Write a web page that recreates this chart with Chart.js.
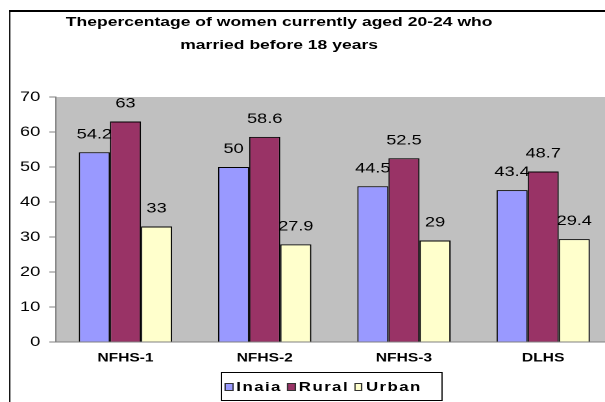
<!DOCTYPE html>
<html>
<head>
<meta charset="utf-8">
<script src="https://cdn.jsdelivr.net/npm/chart.js@4/dist/chart.umd.min.js"></script>
<style>
    html, body { margin: 0; padding: 0; background: #fff; overflow: hidden; }
    /* the original picture is stretched sideways, so the whole chart is drawn narrow and scaled */
    #stage { position: relative; width: 466px; height: 402px; overflow: hidden; transform: scaleX(1.2983); transform-origin: 0 0; }
    #frame { position: absolute; left: 7.2px; top: 10px; width: 470px; height: 400px; border-left: 1.6px solid #000; border-top: 2px solid #000; }
    #title { position: absolute; left: 0; top: 9.5px; width: 430px; text-align: center; font: bold 13.5px "Liberation Sans", Arial, sans-serif; line-height: 23px; color: #000; }
    #chart { position: absolute; left: 0; top: 0; }
    #legend { position: absolute; left: 170px; top: 372px; width: 167px; height: 27px; padding-left: 2px; border: 1px solid #000; display: flex; align-items: center; justify-content: flex-start; gap: 4px; font: bold 13px "Liberation Sans", Arial, sans-serif; letter-spacing: 1.1px; color: #000; }
    #legend span.box { display: inline-block; width: 4.5px; height: 6px; border: 1px solid #333; margin-right: 2.5px; vertical-align: 0px; }
</style>
</head>
<body>
<div id="stage">
    <div id="frame"></div>
    <div id="title">Thepercentage of women currently aged 20-24 who<br>married before 18 years</div>
    <canvas id="chart" width="472" height="402" style="width:472px;height:402px"></canvas>
    <div id="legend"></div>
</div>
<script>
const surveys = ['NFHS-1', 'NFHS-2', 'NFHS-3', 'DLHS'];
const indiaValues = [54.2, 50, 44.5, 43.4];
const ruralValues = [63, 58.6, 52.5, 48.7];
const urbanValues = [33, 27.9, 29, 29.4];
const seriesNames = ['Inaia', 'Rural', 'Urban'];
const seriesColors = ['#9999FF', '#993366', '#FFFFCC'];

// grey plot area like the old Excel chart
const plotBackground = {
    id: 'plotBackground',
    beforeDraw(chart) {
        const { ctx, chartArea } = chart;
        ctx.save();
        ctx.fillStyle = '#C0C0C0';
        ctx.fillRect(chartArea.left, chartArea.top, chartArea.right - chartArea.left, chartArea.bottom - chartArea.top);
        ctx.restore();
    }
};

// value written above every bar
const barValues = {
    id: 'barValues',
    afterDatasetsDraw(chart) {
        const ctx = chart.ctx;
        ctx.save();
        ctx.font = '14px "Liberation Sans", Arial, sans-serif';
        ctx.fillStyle = '#000';
        ctx.textAlign = 'center';
        ctx.textBaseline = 'alphabetic';
        chart.data.datasets.forEach((ds, i) => {
            chart.getDatasetMeta(i).data.forEach((bar, j) => {
                ctx.fillText(String(ds.data[j]), bar.x, bar.y - 14);
            });
        });
        ctx.restore();
    }
};

const datasets = [indiaValues, ruralValues, urbanValues].map((values, i) => ({
    label: seriesNames[i],
    data: values,
    backgroundColor: seriesColors[i],
    borderColor: '#000',
    borderWidth: 1,
    barPercentage: 1,
    categoryPercentage: 0.67
}));

new Chart(document.getElementById('chart'), {
    type: 'bar',
    data: { labels: surveys, datasets: datasets },
    options: {
        responsive: false,
        devicePixelRatio: 2,
        animation: false,
        layout: { padding: { top: 97, bottom: 30, left: 0, right: 0 } },
        plugins: {
            legend: { display: false },
            title: { display: false },
            tooltip: { enabled: false }
        },
        scales: {
            x: {
                grid: { display: false, drawTicks: false },
                border: { display: true, color: '#808080', width: 1 },
                ticks: {
                    color: '#000',
                    padding: 9,
                    font: { family: '"Liberation Sans", Arial, sans-serif', size: 12, weight: 'bold' }
                },
                afterFit(scale) { scale.height = 30; }
            },
            y: {
                min: 0,
                max: 70,
                ticks: {
                    stepSize: 10,
                    color: '#000',
                    padding: 7,
                    font: { family: '"Liberation Sans", Arial, sans-serif', size: 14 }
                },
                grid: { drawOnChartArea: false, drawTicks: true, tickLength: 5, color: '#808080' },
                border: { display: true, color: '#808080', width: 1 },
                afterFit(scale) { scale.width = 43; }
            }
        }
    },
    plugins: [plotBackground, barValues]
});

const legendBox = document.getElementById('legend');
seriesNames.forEach((name, i) => {
    const item = document.createElement('div');
    item.innerHTML = '<span class="box" style="background:' + seriesColors[i] + '"></span>' + name;
    legendBox.appendChild(item);
});
</script>
</body>
</html>
